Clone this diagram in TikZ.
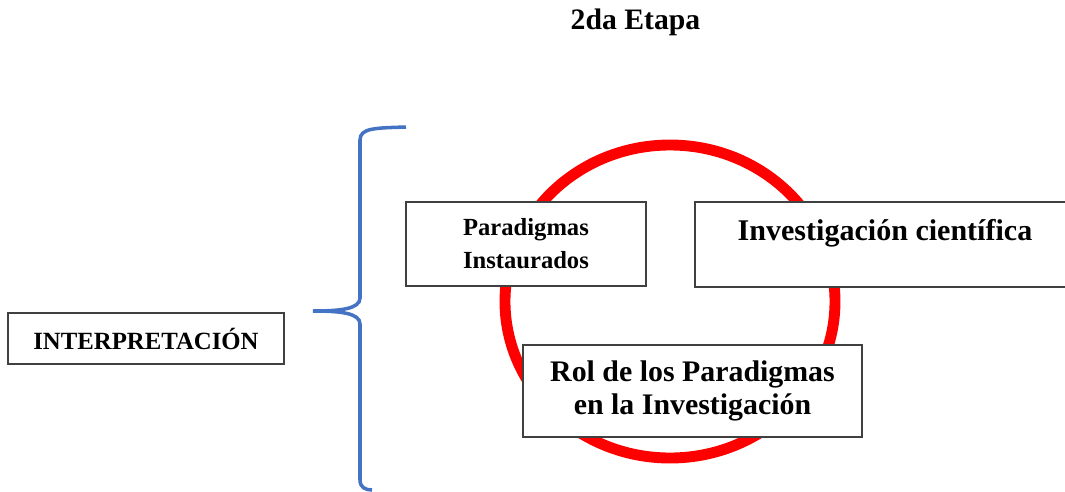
\documentclass[tikz,border=0pt]{standalone}
\usepackage{fontspec}
\setmainfont{Liberation Serif}
\definecolor{braceblue}{HTML}{4472C4}
\definecolor{boxgray}{HTML}{404040}
\begin{document}
\begin{tikzpicture}[x=0.02cm,y=-0.02cm,
  box/.style={draw=boxgray,line width=0.85pt,fill=white,inner sep=0pt},
  txt/.style={font=\bfseries,align=center,inner sep=0pt}]
\useasboundingbox (0,0) rectangle (1065,491);
\clip (0,0) rectangle (1065,491);
\node[txt,font=\bfseries\fontsize{16.9}{20}\selectfont] (title) at (635.5,22) {2da Etapa};
\draw[red,line width=6.2pt] (670,301.5) ellipse [x radius=165,y radius=156.5];
\node[box,minimum width=240*0.02cm,minimum height=84*0.02cm] (parbox) at (526,244) {};
\node[txt,font=\bfseries\fontsize{14}{18.8}\selectfont] (par) at (parbox) {Paradigmas\\Instaurados};
\node[box,minimum width=380*0.02cm,minimum height=85*0.02cm] (invbox) at (885,244.5) {};
\node[txt,font=\bfseries\fontsize{17.1}{20}\selectfont,anchor=base] (inv) at (885,240) {Investigación científica};
\node[box,minimum width=339*0.02cm,minimum height=92*0.02cm] (rolbox) at (692.5,391) {};
\node[txt,font=\bfseries\fontsize{17}{18.8}\selectfont] (rol) at (rolbox) {Rol de los Paradigmas\\en la Investigación};
\node[box,minimum width=276*0.02cm,minimum height=51*0.02cm,font=\bfseries\fontsize{14.1}{16}\selectfont] (interp) at (146,338.5) {INTERPRETACIÓN};
\draw[braceblue,line width=2pt] (406,127) .. controls (375,128) and (360,128) .. (360,140) -- (360,298)
  .. controls (360,309) and (340,311) .. (313,311)
  .. controls (340,311) and (360,313) .. (360,324) -- (360,480)
  .. controls (360,487) and (365,490) .. (372,490);
\end{tikzpicture}
\end{document}
